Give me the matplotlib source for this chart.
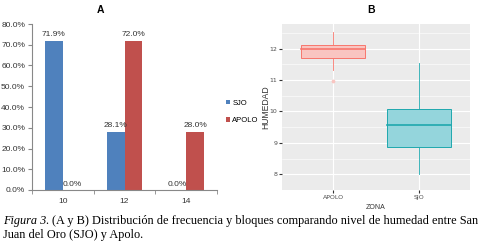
import numpy as np
import matplotlib.pyplot as plt
from matplotlib.patches import Rectangle

# panel A data
cats = ["10", "12", "14"]
sjo = [71.9, 28.1, 0.0]
apolo = [0.0, 72.0, 28.0]

# panel B box stats
zonas = ["APOLO", "SJO"]
q1 = [11.70, 8.86]
med = [12.00, 9.57]
q3 = [12.12, 10.07]
wlo = [11.32, 8.00]
whi = [12.53, 11.53]
outliers = [[10.98], []]

blue = "#4F81BD"
red = "#C0504D"
box_edge = ["#F8766D", "#1FA8AE"]
box_fill = ["#F9C5C1", "#94D5DC"]

fig = plt.figure(figsize=(4.79, 2.45), dpi=100)

# ---- A ----
ax = fig.add_axes([32/479, 1-190/245, 185/479, 166/245])
x = np.arange(len(cats))
w = 0.29
ax.bar(x - w/2, np.array(sjo)/100, w, color=blue, label="SJO")
ax.bar(x + w/2, np.array(apolo)/100, w, color=red, label="APOLO")
for i in range(len(cats)):
    for v, off in [(sjo[i], -w/2), (apolo[i], w/2)]:
        ax.text(x[i] + off, v/100 + 0.012, "%.1f%%" % v, ha="center", va="bottom",
                fontsize=6, family="Liberation Sans", color="#333333")
ax.set_xlim(-0.5, 2.5)
ax.set_ylim(0, 0.8)
ax.set_yticks(np.arange(0, 0.81, 0.1))
ax.set_yticklabels(["%.1f%%" % (t*100) for t in np.arange(0, 0.81, 0.1)])
ax.set_xticks(x)
ax.set_xticklabels(cats)
ax.set_xticks([-0.5, 0.5, 1.5, 2.5], minor=True)
ax.tick_params(axis="x", which="major", length=0, pad=6)
ax.tick_params(axis="x", which="minor", length=3, color="#888888")
ax.tick_params(axis="y", length=3, color="#888888", pad=2)
for lab in ax.get_xticklabels() + ax.get_yticklabels():
    lab.set_fontsize(6)
    lab.set_family("Liberation Sans")
    lab.set_color("#333333")
for s in ["top", "right"]:
    ax.spines[s].set_visible(False)
for s in ["left", "bottom"]:
    ax.spines[s].set_color("#888888")
    ax.spines[s].set_linewidth(0.8)
ax.legend(loc="center left", bbox_to_anchor=(1.03, 0.47), frameon=False,
          prop={"family": "Liberation Sans", "size": 5.5}, handlelength=0.5,
          handleheight=0.6, handletextpad=0.3, labelspacing=1.4, borderpad=0)
fig.text(100/479, 1-10/245, "A", ha="center", va="center", fontsize=7.5,
         fontweight="bold", family="Liberation Sans")

# ---- B ----
bx = fig.add_axes([282/479, 1-190/245, 188/479, 166/245])
bx.set_facecolor("#EBEBEB")
bx.set_xlim(0.4, 2.6)
bx.set_ylim(7.77, 12.78)
bx.set_yticks([8, 9, 10, 11, 12])
bx.set_yticks(np.arange(7.5, 12.6, 1.0), minor=True)
bx.set_xticks([1, 2])
bx.set_xticklabels(zonas)
bx.grid(True, which="major", color="white", linewidth=0.8)
bx.grid(True, which="minor", axis="y", color="white", linewidth=0.4)
bx.set_axisbelow(True)
bw = 0.75
for i in range(len(zonas)):
    xc = i + 1
    bx.plot([xc, xc], [wlo[i], q1[i]], color=box_edge[i], lw=0.6, zorder=3)
    bx.plot([xc, xc], [q3[i], whi[i]], color=box_edge[i], lw=0.6, zorder=3)
    bx.add_patch(Rectangle((xc - bw/2, q1[i]), bw, q3[i] - q1[i],
                           facecolor=box_fill[i], edgecolor=box_edge[i], lw=0.7, zorder=3))
    bx.plot([xc - bw/2, xc + bw/2], [med[i], med[i]], color=box_edge[i], lw=1.2, zorder=4)
    if outliers[i]:
        bx.scatter([xc]*len(outliers[i]), outliers[i], s=3, color=box_fill[i], zorder=4)
for s in bx.spines.values():
    s.set_visible(False)
bx.tick_params(axis="both", which="major", length=2, color="#333333", labelsize=4.5,
               labelcolor="#4D4D4D", pad=1.5)
bx.tick_params(axis="both", which="minor", length=0)
bx.set_ylabel("HUMEDAD", fontsize=6.2, family="Liberation Sans", color="#333333")
bx.yaxis.set_label_coords(-0.062, 0.5)
bx.set_xlabel("ZONA", fontsize=5, family="Liberation Sans", color="#333333", labelpad=3)
fig.text(371/479, 1-10/245, "B", ha="center", va="center", fontsize=7.5,
         fontweight="bold", family="Liberation Sans")

# ---- caption ----
fig.canvas.draw()
r = fig.canvas.get_renderer()
t1 = fig.text(3/479, 1-221/245, "Figura 3.", ha="left", va="center", fontsize=8.8,
              family="Liberation Serif", style="italic")
bb = t1.get_window_extent(r)
fig.text((bb.x1 + 3)/479, 1-221/245,
         "(A y B) Distribución de frecuencia y bloques comparando nivel de humedad entre San",
         ha="left", va="center", fontsize=8.8, family="Liberation Serif")
fig.text(3/479, 1-235/245, "Juan del Oro (SJO) y Apolo.", ha="left", va="center",
         fontsize=8.8, family="Liberation Serif")

fig.savefig("out.png", dpi=100)
